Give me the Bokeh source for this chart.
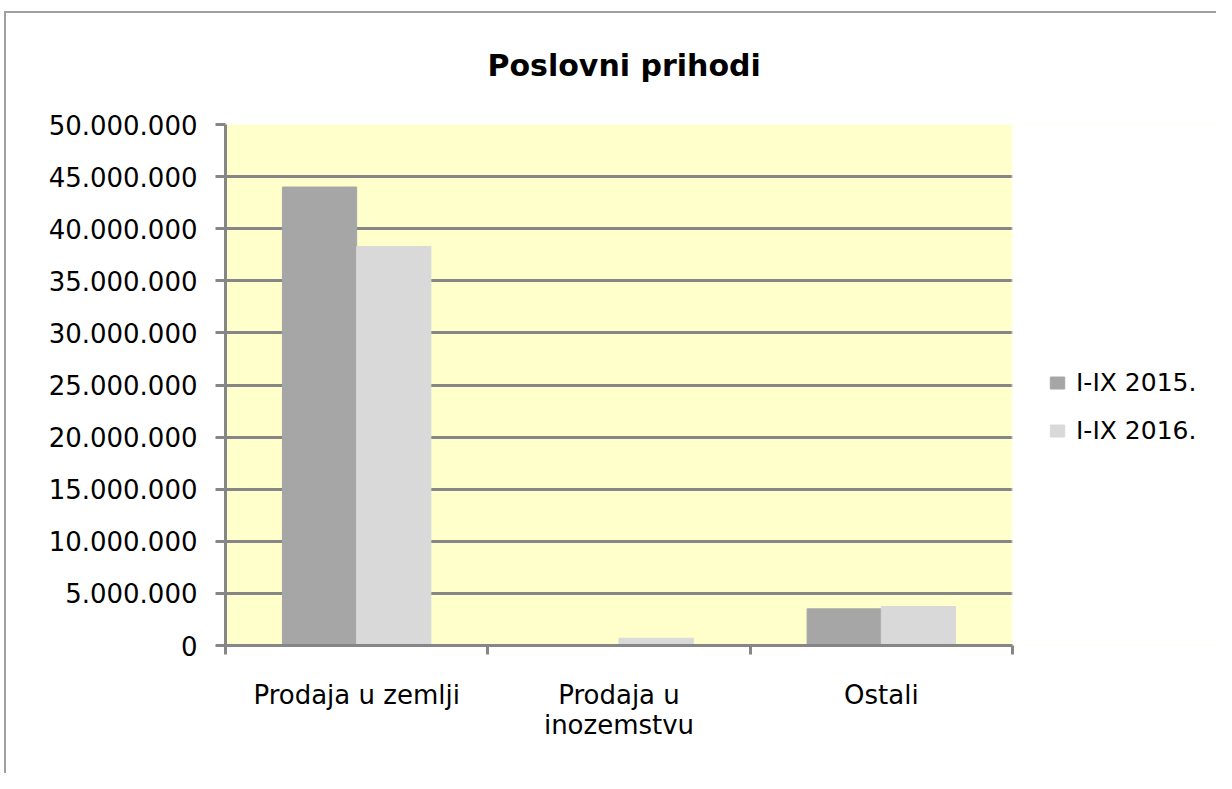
from bokeh.plotting import figure
from bokeh.models import Range1d, FixedTicker, ColumnDataSource, Legend, LegendItem, BoxAnnotation
from bokeh.transform import dodge
from bokeh.embed import file_html
from bokeh.resources import INLINE

# ---- data ----
categories = ["Prodaja u zemlji", "Prodaja u\ninozemstvu", "Ostali"]
series_names = ["I-IX 2015.", "I-IX 2016."]
values_2015 = [44_000_000, 0, 3_520_000]
values_2016 = [38_300_000, 700_000, 3_740_000]
y_ticks = [0, 5_000_000, 10_000_000, 15_000_000, 20_000_000, 25_000_000,
           30_000_000, 35_000_000, 40_000_000, 45_000_000, 50_000_000]
y_tick_labels = ["0", "5.000.000", "10.000.000", "15.000.000", "20.000.000", "25.000.000",
                 "30.000.000", "35.000.000", "40.000.000", "45.000.000", "50.000.000"]
y_max = 50_000_000

FONT = "DejaVu Sans"
GRID = "#868686"

n = len(categories)
centers = [i + 0.5 for i in range(n)]
boundaries = [float(i) for i in range(n + 1)]
src = ColumnDataSource(dict(x=centers, v2015=values_2015, v2016=values_2016))

# layout: plot area 787 px wide; the frame is extended to the right to host the legend
W, H = 1212, 773
BL, BR, BT, BB = 221, 0, 124, 128
area_w = 787
frame_w = W - BL - BR
x_end = n * frame_w / area_w

p = figure(width=W, height=H,
           x_range=Range1d(0, x_end), y_range=Range1d(0, y_max),
           output_backend="svg", toolbar_location=None,
           min_border_left=BL, min_border_right=BR,
           min_border_top=BT, min_border_bottom=BB,
           background_fill_color="#FFFFCC", border_fill_color="white",
           border_fill_alpha=0.0)
p.outline_line_color = None

# white cover for the legend zone (right of the plot area)
p.add_layout(BoxAnnotation(left=n, fill_color="white", fill_alpha=1.0,
                           line_color="white", line_width=3, level="underlay"))

bw = 0.283
r1 = p.vbar(x=dodge("x", -bw / 2, range=p.x_range), top="v2015", width=bw, source=src,
            fill_color="#A6A6A6", line_color="#A6A6A6")
r2 = p.vbar(x=dodge("x", bw / 2, range=p.x_range), top="v2016", width=bw, source=src,
            fill_color="#D9D9D9", line_color="#D9D9D9")

# title
p.title.text = "Poslovni prihodi"
p.title.align = "left"
p.title.offset = 262
p.title.text_font = FONT
p.title.text_font_style = "bold"
p.title.text_font_size = "30px"
p.title.text_color = "black"
p.title.standoff = 84

# x axis
xa = p.xaxis[0]
xa.bounds = (0, n)
xa.ticker = FixedTicker(ticks=centers, minor_ticks=boundaries)
xa.major_label_overrides = {c: lab for c, lab in zip(centers, categories)}
xa.major_tick_out = 0
xa.major_tick_in = 0
xa.minor_tick_out = 9
xa.minor_tick_in = 0
xa.minor_tick_line_color = GRID
xa.minor_tick_line_width = 3
xa.axis_line_color = GRID
xa.axis_line_width = 3
xa.major_label_text_font = FONT
xa.major_label_text_font_size = "26px"
xa.major_label_text_color = "black"
xa.major_label_standoff = 25
xa.major_label_text_line_height = 1.0

# y axis
ya = p.yaxis[0]
ya.ticker = FixedTicker(ticks=y_ticks, minor_ticks=[])
ya.major_label_overrides = {t: s for t, s in zip(y_ticks, y_tick_labels)}
ya.major_tick_out = 10
ya.major_tick_in = 0
ya.major_tick_line_color = GRID
ya.major_tick_line_width = 3
ya.axis_line_color = GRID
ya.axis_line_width = 3
ya.major_label_text_font = FONT
ya.major_label_text_font_size = "26px"
ya.major_label_text_color = "black"
ya.major_label_standoff = 18

# grid
p.xgrid.grid_line_color = None
p.ygrid.ticker = FixedTicker(ticks=y_ticks)
p.ygrid.grid_line_color = GRID
p.ygrid.grid_line_width = 3

# legend to the right of the plot area
legend = Legend(items=[LegendItem(label=series_names[0], renderers=[r1]),
                       LegendItem(label=series_names[1], renderers=[r2])],
                location=(area_w + 36, 200), orientation="vertical",
                glyph_width=18, glyph_height=15, label_standoff=10,
                padding=0, margin=0, spacing=18, label_height=30,
                border_line_color=None, background_fill_alpha=0,
                label_text_font=FONT, label_text_font_size="25px",
                label_text_color="black")
p.add_layout(legend, "center")

# outer chart-object border (left and top edges)
p.styles = {
    "margin-left": "4px",
    "background": ("linear-gradient(#a0a0a0, #a0a0a0) 0 11px / 100% 2px no-repeat, "
                   "linear-gradient(#a0a0a0, #a0a0a0) 0 11px / 2px 100% no-repeat, white"),
}

open("out.html", "w").write(file_html(p, INLINE))
